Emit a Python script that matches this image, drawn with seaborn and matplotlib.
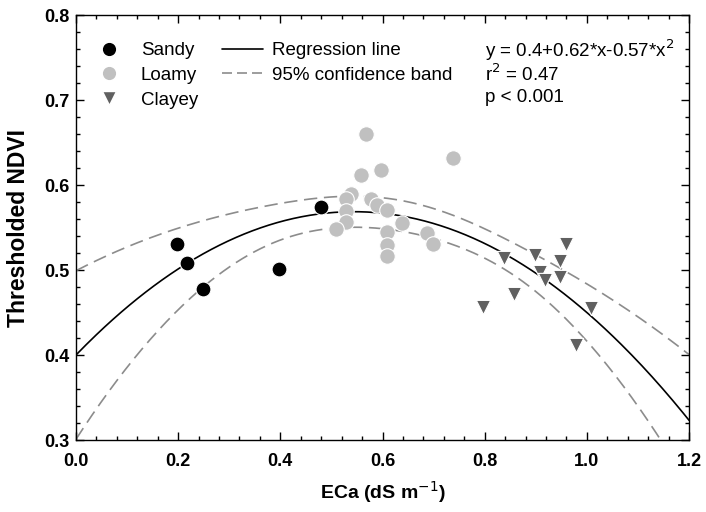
import numpy as np
import pandas as pd
import matplotlib
matplotlib.use("Agg")
import matplotlib.pyplot as plt
import seaborn as sns
from matplotlib.lines import Line2D
from matplotlib.ticker import MultipleLocator, FormatStrFormatter

# Scatter data (ECa, thresholded NDVI)
sandy_x = [0.198, 0.217, 0.249, 0.397, 0.480]
sandy_y = [0.531, 0.508, 0.478, 0.501, 0.574]

loamy_x = [0.568, 0.738, 0.558, 0.598, 0.538, 0.528, 0.577, 0.589, 0.609,
           0.528, 0.529, 0.508, 0.638, 0.609, 0.688, 0.698, 0.609, 0.609]
loamy_y = [0.660, 0.632, 0.612, 0.618, 0.589, 0.583, 0.583, 0.576, 0.571,
           0.570, 0.557, 0.548, 0.555, 0.545, 0.544, 0.531, 0.529, 0.516]

clayey_x = [0.959, 0.838, 0.899, 0.948, 0.908, 0.918, 0.948, 0.858, 0.797,
            1.008, 0.978]
clayey_y = [0.531, 0.514, 0.518, 0.511, 0.498, 0.488, 0.492, 0.472, 0.456,
            0.455, 0.412]

# Regression coefficients as printed on the chart
coef = [0.4, 0.62, -0.57]
t_crit = 2.04  # t(0.975, n-3) for n ~ 34

df = pd.DataFrame({
    "ECa": sandy_x + loamy_x + clayey_x,
    "NDVI": sandy_y + loamy_y + clayey_y,
    "soil": ["Sandy"] * len(sandy_x) + ["Loamy"] * len(loamy_x) + ["Clayey"] * len(clayey_x),
})

# Fit line and confidence band
X = np.column_stack([np.ones(len(df)), df["ECa"], df["ECa"] ** 2])
resid = df["NDVI"] - X @ np.array(coef)
s2 = (resid ** 2).sum() / (len(df) - 3)
cov = s2 * np.linalg.inv(X.T @ X)
xs = np.linspace(0, 1.2, 300)
Xs = np.column_stack([np.ones_like(xs), xs, xs ** 2])
ys = Xs @ np.array(coef)
se = np.sqrt(np.einsum("ij,jk,ik->i", Xs, cov, Xs))
band = pd.DataFrame({"x": xs, "fit": ys, "lo": ys - t_crit * se, "hi": ys + t_crit * se})

sns.set_theme(style="ticks")
plt.rcParams["font.family"] = ["Liberation Sans", "DejaVu Sans"]
plt.rcParams["text.color"] = "black"
plt.rcParams["axes.labelcolor"] = "black"
plt.rcParams["xtick.color"] = "black"
plt.rcParams["ytick.color"] = "black"

fig = plt.figure(figsize=(7.06, 5.12), dpi=100)
ax = fig.add_axes([0.1076, 0.1406, 0.8684, 0.8301])

sns.lineplot(data=band, x="x", y="fit", color="black", lw=1.2, ax=ax)
sns.lineplot(data=band, x="x", y="hi", color="#8c8c8c", lw=1.2, ax=ax)
sns.lineplot(data=band, x="x", y="lo", color="#8c8c8c", lw=1.2, ax=ax)
for ln in ax.lines[1:]:
    ln.set_dashes([8, 4])

colors = {"Sandy": "black", "Loamy": "#c0c0c0", "Clayey": "#606060"}
markers = {"Sandy": "o", "Loamy": "o", "Clayey": "v"}
sizes = {"Sandy": 115, "Loamy": 125, "Clayey": 105}
for soil in ["Sandy", "Loamy", "Clayey"]:
    sub = df[df["soil"] == soil]
    sns.scatterplot(data=sub, x="ECa", y="NDVI", color=colors[soil],
                    marker=markers[soil], s=sizes[soil], edgecolor="white",
                    linewidth=0.8, ax=ax, zorder=3, legend=False)

ax.set_xlim(0, 1.2)
ax.set_ylim(0.3, 0.8)
ax.xaxis.set_major_locator(MultipleLocator(0.2))
ax.xaxis.set_minor_locator(MultipleLocator(0.04))
ax.yaxis.set_major_locator(MultipleLocator(0.1))
ax.yaxis.set_minor_locator(MultipleLocator(0.02))
ax.xaxis.set_major_formatter(FormatStrFormatter("%.1f"))
ax.yaxis.set_major_formatter(FormatStrFormatter("%.1f"))
ax.tick_params(which="both", direction="in", top=True, right=True, width=1, color="black")
ax.tick_params(which="major", length=6, labelsize=13)
ax.tick_params(which="minor", length=3)
ax.tick_params(axis="x", which="major", pad=9)
ax.tick_params(axis="y", which="major", pad=5)
for lab in ax.get_xticklabels() + ax.get_yticklabels():
    lab.set_fontweight("bold")
for sp in ax.spines.values():
    sp.set_color("black")
    sp.set_linewidth(1)

ax.set_xlabel("ECa (dS m$^{-1}$)", fontsize=14, fontweight="bold", labelpad=7)
ax.set_ylabel("Thresholded NDVI", fontsize=16.5, fontweight="bold", labelpad=10)

pt_handles = [Line2D([], [], ls="none", marker=markers[k], color=colors[k],
                     markeredgecolor="white", markersize=10.5) for k in colors]
leg1 = ax.legend(pt_handles, list(colors), loc="upper left", frameon=False,
                 fontsize=13.5, handletextpad=0.7, labelspacing=0.4,
                 borderpad=0.2, bbox_to_anchor=(0.002, 0.967))
ax.add_artist(leg1)
ln_handles = [Line2D([], [], color="black", lw=1.2),
              Line2D([], [], color="#8c8c8c", lw=1.2, dashes=[6, 3])]
ax.legend(ln_handles, ["Regression line", "95% confidence band"], loc="upper left",
          frameon=False, fontsize=13.5, handlelength=2.2, handletextpad=0.45,
          labelspacing=0.4, borderpad=0.2, bbox_to_anchor=(0.217, 0.967))

ax.text(0.667, 0.948, "y = 0.4+0.62*x-0.57*x$^2$", transform=ax.transAxes,
        fontsize=13.5, va="top")
ax.text(0.667, 0.887, "r$^2$ = 0.47", transform=ax.transAxes, fontsize=13.5, va="top")
ax.text(0.667, 0.826, "p < 0.001", transform=ax.transAxes, fontsize=13.5, va="top")

fig.savefig("out.png", dpi=100)
